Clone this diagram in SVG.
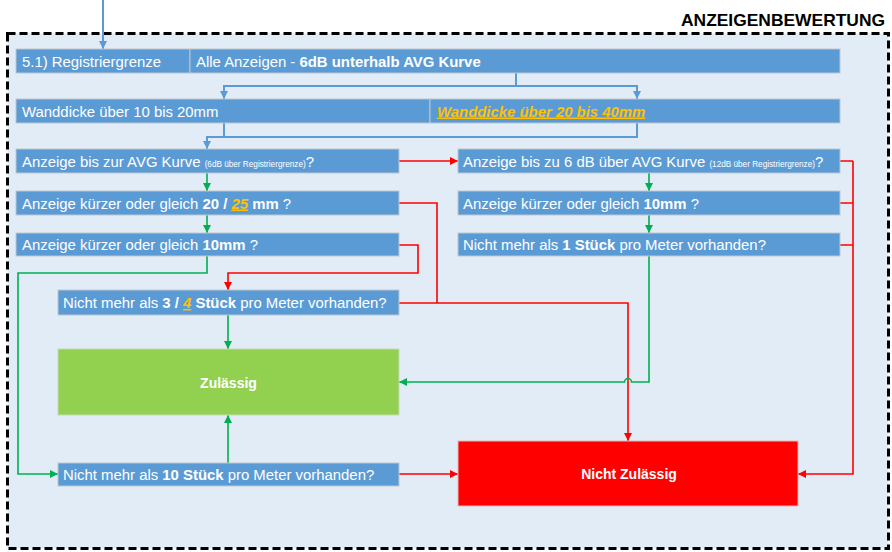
<svg xmlns="http://www.w3.org/2000/svg" width="892" height="552" viewBox="0 0 892 552">
<defs>
<style>
text{font-family:"Liberation Sans",Arial,sans-serif;font-size:14.9px;fill:#fff}
.box{fill:#5B9BD5;stroke:#BFC5CC;stroke-width:1}
.b{font-weight:bold}
.o{fill:#FFC000;font-weight:bold;font-style:italic;text-decoration:underline}
.s{font-size:8.2px}
.cb{fill:none;stroke:#5B9BD5;stroke-width:2}
.cg{fill:none;stroke:#00B050;stroke-width:1.6}
.cr{fill:none;stroke:#FF0000;stroke-width:1.6}
</style>
<marker id="ab" markerUnits="userSpaceOnUse" markerWidth="10" markerHeight="10" refX="8" refY="5" orient="auto"><path d="M0,1 L8,5 L0,9 Z" fill="#5B9BD5"/></marker>
<marker id="ag" markerUnits="userSpaceOnUse" markerWidth="10" markerHeight="10" refX="8" refY="5" orient="auto"><path d="M0,1 L8,5 L0,9 Z" fill="#00B050"/></marker>
<marker id="ar" markerUnits="userSpaceOnUse" markerWidth="10" markerHeight="10" refX="8" refY="5" orient="auto"><path d="M0,1 L8,5 L0,9 Z" fill="#FF0000"/></marker>
</defs>
<rect width="892" height="552" fill="#fff"/>
<g id="frame">
<rect x="7.5" y="33.5" width="881" height="515" fill="#E2ECF6" stroke="#000" stroke-width="3" stroke-dasharray="8,4"/>
<text x="885" y="25.5" text-anchor="end" class="b" style="fill:#000;font-size:17px" textLength="204" lengthAdjust="spacingAndGlyphs">ANZEIGENBEWERTUNG</text>
</g>
<g id="connectors">
<path class="cb" d="M103,0 V49" marker-end="url(#ab)"/>
<path class="cb" d="M516,73 V86 H224 V99" marker-end="url(#ab)"/>
<path class="cb" d="M516,86 H637 V99" marker-end="url(#ab)"/>
<path class="cb" d="M224,123 V137"/>
<path class="cb" d="M637,123 V137 H207 V149" marker-end="url(#ab)"/>
<path class="cr" d="M399,161 H458" marker-end="url(#ar)"/>
<path class="cg" d="M207,173 V191" marker-end="url(#ag)"/>
<path class="cg" d="M207,215 V233" marker-end="url(#ag)"/>
<path class="cg" d="M649,173 V191" marker-end="url(#ag)"/>
<path class="cg" d="M649,215 V233" marker-end="url(#ag)"/>
<path class="cr" d="M399,245 H418 V273 H228 V290" marker-end="url(#ar)"/>
<path class="cr" d="M399,203 H437 V303"/>
<path class="cr" d="M399,303 H628 V441" marker-end="url(#ar)"/>
<path class="cg" d="M207,256 V273 H18 V474 H58" marker-end="url(#ag)"/>
<path class="cg" d="M228,315 V349" marker-end="url(#ag)"/>
<path class="cg" d="M228,463 V415" marker-end="url(#ag)"/>
<path class="cg" d="M649,256 V382 H631.5 a3.5,3.5 0 0 0 -7,0 H399" marker-end="url(#ag)"/>
<path class="cr" d="M399,474 H458" marker-end="url(#ar)"/>
<path class="cr" d="M840,161 H853 M840,203 H853 M840,245 H853 M853,161 V474 H798" marker-end="url(#ar)"/>
</g>
<g id="n-registrier">
<rect class="box" x="16" y="49" width="174" height="24"/>
<text x="22" y="66.5">5.1) Registriergrenze</text>
</g>
<g id="n-alle">
<rect class="box" x="190" y="49" width="650" height="24"/>
<text x="196" y="66.5">Alle Anzeigen - <tspan class="b">6dB unterhalb AVG Kurve</tspan></text>
</g>
<g id="n-wand1">
<rect class="box" x="16" y="99" width="414" height="24"/>
<text x="22" y="116.5">Wanddicke über 10 bis 20mm</text>
</g>
<g id="n-wand2">
<rect class="box" x="430" y="99" width="410" height="24"/>
<text x="437" y="116.5" class="o">Wanddicke über 20 bis 40mm</text>
</g>
<g id="n-l1">
<rect class="box" x="16" y="149" width="383" height="24"/>
<text x="22" y="166.5">Anzeige bis zur AVG Kurve <tspan class="s">(6dB über Registriergrenze)</tspan>?</text>
</g>
<g id="n-l2">
<rect class="box" x="16" y="191" width="383" height="24"/>
<text x="22" y="208.5">Anzeige kürzer oder gleich <tspan class="b">20 / </tspan><tspan class="o">25</tspan><tspan class="b"> mm</tspan> ?</text>
</g>
<g id="n-l3">
<rect class="box" x="16" y="233" width="383" height="23"/>
<text x="22" y="250">Anzeige kürzer oder gleich <tspan class="b">10mm</tspan> ?</text>
</g>
<g id="n-l4">
<rect class="box" x="58" y="290" width="341" height="25"/>
<text x="63" y="308">Nicht mehr als <tspan class="b">3 / </tspan><tspan class="o">4</tspan><tspan class="b"> Stück</tspan> pro Meter vorhanden?</text>
</g>
<g id="n-r1">
<rect class="box" x="458" y="149" width="382" height="24"/>
<text x="463" y="166.5">Anzeige bis zu 6 dB über AVG Kurve <tspan class="s">(12dB über Registriergrenze)</tspan>?</text>
</g>
<g id="n-r2">
<rect class="box" x="458" y="191" width="382" height="24"/>
<text x="463" y="208.5">Anzeige kürzer oder gleich <tspan class="b">10mm</tspan> ?</text>
</g>
<g id="n-r3">
<rect class="box" x="458" y="233" width="382" height="23"/>
<text x="463" y="250">Nicht mehr als <tspan class="b">1 Stück</tspan> pro Meter vorhanden?</text>
</g>
<g id="n-zul">
<rect x="58" y="349" width="341" height="66" fill="#92D050" stroke="#C9D6B8" stroke-width="1"/>
<text x="228.5" y="387.5" text-anchor="middle" class="b" style="font-size:14px">Zulässig</text>
</g>
<g id="n-l5">
<rect class="box" x="58" y="463" width="341" height="23"/>
<text x="63" y="479.5">Nicht mehr als <tspan class="b">10 Stück</tspan> pro Meter vorhanden?</text>
</g>
<g id="n-nicht">
<rect x="458" y="441" width="340" height="65" fill="#FF0000" stroke="#E8B8B8" stroke-width="1"/>
<text x="629" y="479" text-anchor="middle" class="b" style="font-size:14px">Nicht Zulässig</text>
</g>
</svg>
